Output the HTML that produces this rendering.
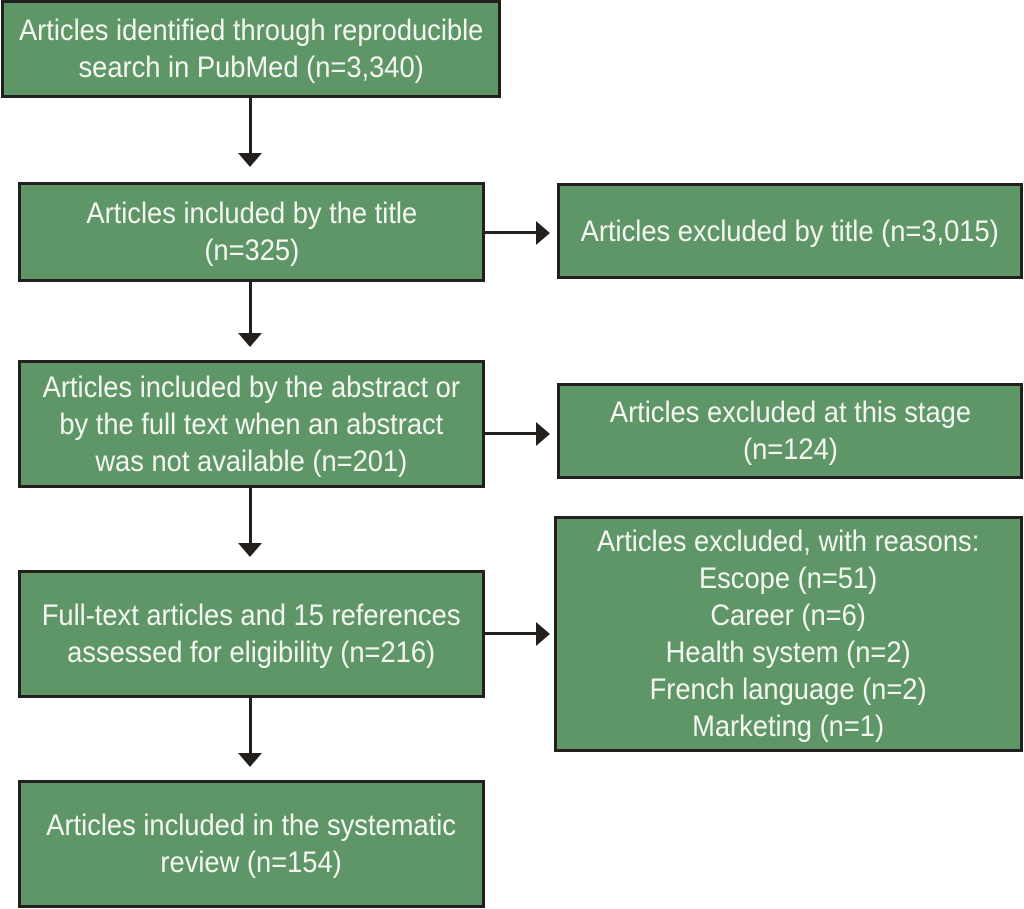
<!DOCTYPE html>
<html><head><style>
body{margin:0;width:1024px;height:909px;background:#fff;position:relative;overflow:hidden;font-family:"Liberation Sans",sans-serif;}
.b{position:absolute;box-sizing:border-box;border:3px solid #231f1c;background:#5f9668;color:#f4f7ef;display:flex;align-items:center;justify-content:center;text-align:center;font-size:30px;line-height:37px;}
.b span{display:inline-block;transform:scaleX(0.91);white-space:nowrap;}
.v{position:absolute;width:3px;background:#231f1c;}
.h{position:absolute;height:3px;background:#231f1c;}
.ad{position:absolute;width:0;height:0;border-left:12px solid transparent;border-right:12px solid transparent;border-top:14px solid #231f1c;}
.ar{position:absolute;width:0;height:0;border-top:12px solid transparent;border-bottom:12px solid transparent;border-left:14px solid #231f1c;}
</style></head><body>
<div class="b" style="left:1px;top:0;width:500px;height:98px"><span>Articles identified through reproducible<br>search in PubMed (n=3,340)</span></div>
<div class="b" style="left:18px;top:182px;width:467px;height:100px"><span>Articles included by the title<br>(n=325)</span></div>
<div class="b" style="left:18px;top:360px;width:467px;height:128px"><span>Articles included by the abstract or<br>by the full text when an abstract<br>was not available (n=201)</span></div>
<div class="b" style="left:18px;top:570px;width:467px;height:128px"><span>Full-text articles and 15 references<br>assessed for eligibility (n=216)</span></div>
<div class="b" style="left:18px;top:780px;width:467px;height:128px"><span>Articles included in the systematic<br>review (n=154)</span></div>
<div class="b" style="left:557px;top:183px;width:466px;height:96px"><span>Articles excluded by title (n=3,015)</span></div>
<div class="b" style="left:557px;top:383px;width:466px;height:96px"><span>Articles excluded at this stage<br>(n=124)</span></div>
<div class="b" style="left:554px;top:516px;width:469px;height:236px"><span>Articles excluded, with reasons:<br>Escope (n=51)<br>Career (n=6)<br>Health system (n=2)<br>French language (n=2)<br>Marketing (n=1)</span></div>

<div class="v" style="left:249px;top:98px;height:56px"></div><div class="ad" style="left:238px;top:153px"></div>
<div class="v" style="left:249px;top:282px;height:52px"></div><div class="ad" style="left:238px;top:333px"></div>
<div class="v" style="left:249px;top:488px;height:56px"></div><div class="ad" style="left:238px;top:543px"></div>
<div class="v" style="left:249px;top:698px;height:56px"></div><div class="ad" style="left:238px;top:753px"></div>

<div class="h" style="left:485px;top:231px;width:52px"></div><div class="ar" style="left:536px;top:221px"></div>
<div class="h" style="left:485px;top:432px;width:52px"></div><div class="ar" style="left:536px;top:422px"></div>
<div class="h" style="left:485px;top:632px;width:52px"></div><div class="ar" style="left:536px;top:622px"></div>
</body></html>
